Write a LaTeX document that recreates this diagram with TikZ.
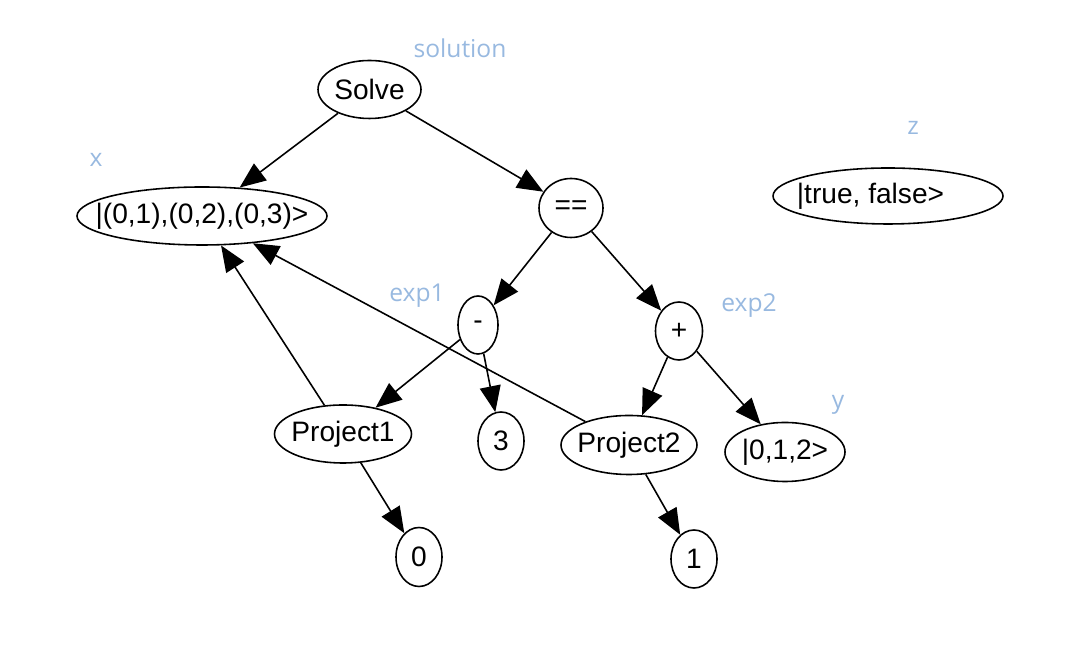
\documentclass[tikz,border=0pt]{standalone}
\usepackage{fontspec}
\setmainfont{Liberation Sans}
\newfontfamily\tagfont{Open Sans}
\usetikzlibrary{shapes.geometric,arrows.meta}
\definecolor{tagblue}{RGB}{152,185,224}
\newcommand{\ctr}[1]{\makebox[0pt]{#1}}
\tikzset{
  opnode/.style={draw,ellipse,line width=0.9pt,inner sep=0pt,minimum height=1.16cm,
    font=\fontsize{16}{19}\selectfont},
  tag/.style={text=tagblue,font=\tagfont\fontsize{14}{17}\selectfont},
  flow/.style={line width=0.9pt,-{Triangle[length=0.52cm,width=0.42cm]}}
}
\begin{document}
\begin{tikzpicture}
  \useasboundingbox (0,0) rectangle (21.68,13);

  \node[opnode,minimum width=2.06cm] (solve) at (7.39,11.21) {\ctr{Solve}};
  \node[opnode,minimum width=5.0cm] (xval) at (4.04,8.68) {\ctr{|(0,1),(0,2),(0,3)>}};
  \node[opnode,minimum width=1.28cm,minimum height=1.18cm] (eq) at (11.42,8.84) {\ctr{==}};
  \node[opnode,minimum width=0.8cm] (minus) at (9.56,6.50) {\ctr{-}};
  \node[opnode,minimum width=0.94cm] (plus) at (13.58,6.38) {\ctr{+}};
  \node[opnode,minimum width=2.74cm] (proj1) at (6.86,4.32) {\ctr{Project1}};
  \node[opnode,minimum width=0.92cm] (three) at (10.02,4.18) {\ctr{3}};
  \node[opnode,minimum width=2.72cm,minimum height=1.18cm] (proj2) at (12.58,4.10) {\ctr{Project2}};
  \node[opnode,minimum width=2.4cm,minimum height=1.18cm] (yval) at (15.70,3.96) {\ctr{|0,1,2>}};
  \node[opnode,minimum width=0.92cm,minimum height=1.18cm] (zero) at (8.38,1.86) {\ctr{0}};
  \node[opnode,minimum width=0.92cm] (one) at (13.88,1.82) {\ctr{1}};
  \node[opnode,minimum width=4.6cm,minimum height=1.12cm] (zval) at (17.76,9.08) {\ctr{|true, false>\hspace{0.7cm}}};

  % variable names
  \node[tag] (tsolution) at (9.20,12.04) {solution};
  \node[tag] (tx) at (1.92,9.80) {x};
  \node[tag] (tz) at (18.26,10.44) {z};
  \node[tag] (texp1) at (8.34,7.08) {exp1};
  \node[tag] (texp2) at (14.98,6.88) {exp2};
  \node[tag] (ty) at (16.76,4.90) {y};

  \foreach \a/\b in {solve/xval,solve/eq,eq/minus,eq/plus,minus/proj1,minus/three,
      plus/proj2,plus/yval,proj1/zero,proj2/one,proj1/xval,proj2/xval}
    \draw[flow] (\a) -- (\b);
\end{tikzpicture}
\end{document}
